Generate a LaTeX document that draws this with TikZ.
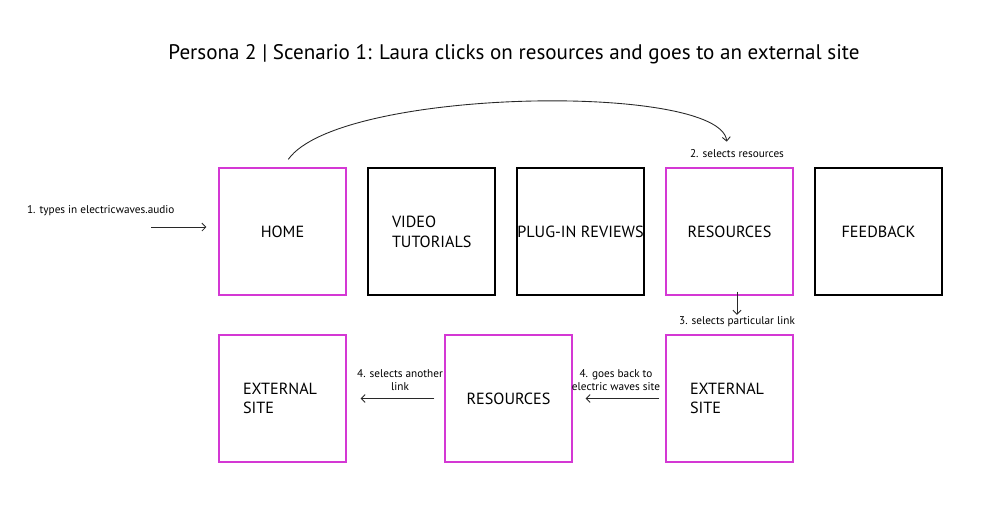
\documentclass[tikz,border=0pt]{standalone}
\usepackage{fontspec}
\setmainfont{PT Sans}
\usepackage{tikz}
\usetikzlibrary{positioning,arrows.meta,calc}
\definecolor{visitpink}{RGB}{212,56,212}
\definecolor{flowgrey}{RGB}{40,40,40}
\tikzset{
  pagebox/.style={draw=black,line width=0.6pt,minimum width=2.54cm,minimum height=2.54cm,inner sep=0pt,align=center,font=\fontsize{9.2}{11.2}\selectfont},
  visited/.style={pagebox,draw=visitpink},
  leftlabel/.style={text width=1.58cm,inner xsep=0.48cm,align=left},
  steplabel/.style={font=\fontsize{6.4}{7.6}\selectfont,inner sep=1pt,align=center},
  flow/.style={-{Straight Barb[length=0.8mm,width=1.6mm]},line width=0.5pt,draw=flowgrey},
}
\begin{document}
\begin{tikzpicture}[x=0.02cm,y=-0.02cm]
  \useasboundingbox (0,0) rectangle (1000,524);
  % title
  \node[font=\fontsize{12}{14.4}\selectfont] (title) at (514,54) {Persona 2 | Scenario 1: Laura clicks on resources and goes to an external site};
  % site pages, top row
  \node[visited] (home) at (282.5,231.5) {HOME};
  \node[pagebox,leftlabel] (video) at (431.5,231.5) {VIDEO\\TUTORIALS};
  \node[pagebox] (plugin) at (580.5,231.5) {PLUG-IN REVIEWS};
  \node[visited] (res) at (729.5,231.5) {RESOURCES};
  \node[pagebox] (feedback) at (878.5,231.5) {FEEDBACK};
  % bottom row
  \node[visited,leftlabel] (extA) at (282.5,398.5) {EXTERNAL\\SITE};
  \node[visited] (resB) at (508.5,398.5) {RESOURCES};
  \node[visited,leftlabel] (extB) at (729.5,398.5) {EXTERNAL\\SITE};
  % steps
  \node[steplabel,anchor=west] (s1) at (25,211) {1. types in electricwaves.audio};
  \coordinate (typein) at (151,227);
  \draw[flow,shorten >=0.24cm] (typein) -- (typein -| home.west);
  \node[steplabel] (s2) at (737,154) {2. selects resources};
  \draw[flow,shorten <=0.2cm,shorten >=0.52cm] (home.north) .. controls +(57,-80) and +(-9,-85) .. (res.north);
  \node[steplabel] (s3) at (737,322) {3. selects particular link};
  \draw[flow,shorten <=-0.08cm] (s3.north |- res.south) -- (s3.north);
  \node[steplabel] (s4) at (616,380) {4. goes back to\\electric waves site};
  \draw[flow,shorten <=0.12cm,shorten >=0.26cm] (extB.west) -- (resB.east);
  \node[steplabel] (s5) at (400,380) {4. selects another\\link};
  \draw[flow,shorten <=0.2cm,shorten >=0.28cm] (resB.west) -- (extA.east);
\end{tikzpicture}
\end{document}
